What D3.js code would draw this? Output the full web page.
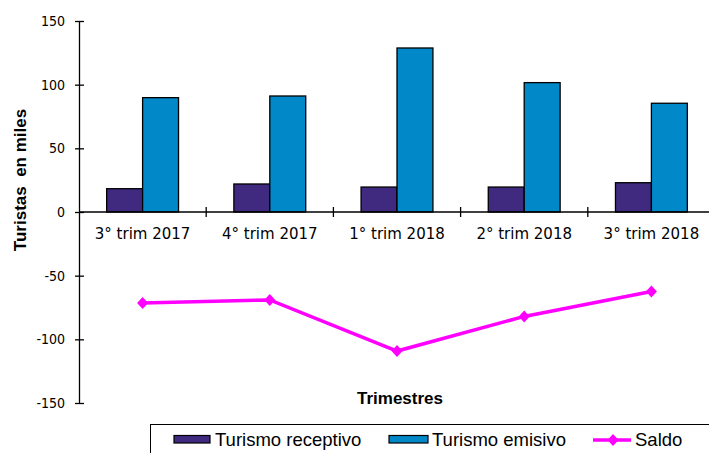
<!DOCTYPE html>
<html>
<head>
<meta charset="utf-8">
<script src="https://cdn.jsdelivr.net/npm/d3@7.9.0/dist/d3.min.js"></script>
<style>
  body { margin: 0; background: #fff; }
  svg { display: block; }
</style>
</head>
<body>
<svg id="chart" width="709" height="453"></svg>
<script>
// data
const quarters = ["3° trim 2017", "4° trim 2017", "1° trim 2018", "2° trim 2018", "3° trim 2018"];
const receptivo = [18.3, 22, 19.6, 19.6, 23];
const emisivo = [89.8, 91.1, 128.8, 101.6, 85.4];
const saldo = [-71.5, -69.1, -109.2, -82, -62.4];
const yTicks = [-150, -100, -50, 0, 50, 100, 150];
const seriesNames = ["Turismo receptivo", "Turismo emisivo", "Saldo"];

const colors = { rec: "#3f2a80", emi: "#0088c9", saldo: "#ff00ff" };

const svg = d3.select("#chart");

const plotLeft = 79, plotRight = 715, plotTop = 21, plotBottom = 403;

let y = d3.scaleLinear().domain([-150, 150]).range([plotBottom, plotTop]);
let x = d3.scaleBand().domain(quarters).range([plotLeft, plotRight]);
let xSub = d3.scaleBand().domain(["rec", "emi"]).range([0, x.bandwidth()])
    .paddingInner(0).paddingOuter(0.77);
const xMid = d => x(d) + x.bandwidth() / 2;

// bars
const groups = svg.append("g").selectAll("g")
    .data(quarters)
    .join("g")
    .attr("transform", d => `translate(${x(d)},0)`);

groups.append("rect")
    .attr("x", xSub("rec"))
    .attr("y", (d, i) => y(receptivo[i]))
    .attr("width", xSub.bandwidth())
    .attr("height", (d, i) => y(0) - y(receptivo[i]))
    .attr("fill", colors.rec)
    .attr("stroke", "#000")
    .attr("stroke-width", 1.3);

groups.append("rect")
    .attr("x", xSub("emi"))
    .attr("y", (d, i) => y(emisivo[i]))
    .attr("width", xSub.bandwidth())
    .attr("height", (d, i) => y(0) - y(emisivo[i]))
    .attr("fill", colors.emi)
    .attr("stroke", "#000")
    .attr("stroke-width", 1.3);

// y axis
const yAxis = svg.append("g")
    .attr("transform", `translate(${plotLeft},0)`)
    .call(d3.axisLeft(y).tickValues(yTicks).tickFormat(d => String(d))
        .tickSize(4).tickPadding(10).tickSizeOuter(0));
yAxis.select(".domain").attr("stroke-width", 1.3);
yAxis.selectAll(".tick line").attr("x1", 5).attr("stroke-width", 1.3);
yAxis.selectAll(".tick text")
    .attr("font-family", "'DejaVu Sans Condensed', 'DejaVu Sans', sans-serif")
    .attr("font-size", 14)
    .attr("fill", "#000");

// x axis at zero
const xg = svg.append("g").attr("transform", `translate(0,${y(0)})`);
xg.append("line")
    .attr("x1", plotLeft).attr("x2", plotRight)
    .attr("stroke", "#000").attr("stroke-width", 1.3);
xg.selectAll("line.tk")
    .data(quarters.slice(1))
    .join("line")
    .attr("class", "tk")
    .attr("x1", d => x(d)).attr("x2", d => x(d))
    .attr("y1", -5).attr("y2", 5)
    .attr("stroke", "#000").attr("stroke-width", 1.3);
xg.selectAll("text")
    .data(quarters)
    .join("text")
    .attr("x", xMid)
    .attr("y", 27)
    .attr("text-anchor", "middle")
    .attr("font-family", "'DejaVu Sans', sans-serif")
    .attr("font-size", 15)
    .text(d => d);

// saldo line
const line = d3.line()
    .x((d, i) => xMid(quarters[i]))
    .y(d => y(d));

svg.append("path")
    .datum(saldo)
    .attr("d", line)
    .attr("fill", "none")
    .attr("stroke", colors.saldo)
    .attr("stroke-width", 3.5);

const diamond = "M0,-6L5.5,0L0,6L-5.5,0Z";
svg.selectAll("path.mk")
    .data(saldo)
    .join("path")
    .attr("class", "mk")
    .attr("d", diamond)
    .attr("transform", (d, i) => `translate(${xMid(quarters[i])},${y(d)})`)
    .attr("fill", colors.saldo);

// axis titles
svg.append("text")
    .attr("transform", "translate(26,180) rotate(-90)")
    .attr("text-anchor", "middle")
    .attr("font-family", "'Liberation Sans', Arial, sans-serif")
    .attr("font-weight", "bold")
    .attr("font-size", 17)
    .attr("xml:space", "preserve")
    .text("Turistas  en miles");

svg.append("text")
    .attr("x", 400)
    .attr("y", 404)
    .attr("text-anchor", "middle")
    .attr("font-family", "'Liberation Sans', Arial, sans-serif")
    .attr("font-weight", "bold")
    .attr("font-size", 17)
    .text("Trimestres");

// legend
const legend = svg.append("g");
legend.append("rect")
    .attr("x", 150.5).attr("y", 424.5)
    .attr("width", 600).attr("height", 60)
    .attr("fill", "#fff").attr("stroke", "#000").attr("stroke-width", 1);

const legendFont = "'Liberation Sans', Arial, sans-serif";
[["rec", 174, 215], ["emi", 389, 432]].forEach(([key, sx, tx], i) => {
    legend.append("rect")
        .attr("x", sx).attr("y", 435.5)
        .attr("width", sx === 174 ? 36 : 39).attr("height", 7.5)
        .attr("fill", colors[key]).attr("stroke", "#000").attr("stroke-width", 1.2);
    legend.append("text")
        .attr("x", tx).attr("y", 446)
        .attr("font-family", legendFont)
        .attr("font-size", 18.5)
        .text(seriesNames[i]);
});
legend.append("line")
    .attr("x1", 593).attr("x2", 631)
    .attr("y1", 440).attr("y2", 440)
    .attr("stroke", colors.saldo).attr("stroke-width", 3.5);
legend.append("path")
    .attr("d", diamond)
    .attr("transform", "translate(613,440)")
    .attr("fill", colors.saldo);
legend.append("text")
    .attr("x", 635).attr("y", 446)
    .attr("font-family", legendFont)
    .attr("font-size", 18.5)
    .text(seriesNames[2]);
</script>
</body>
</html>
